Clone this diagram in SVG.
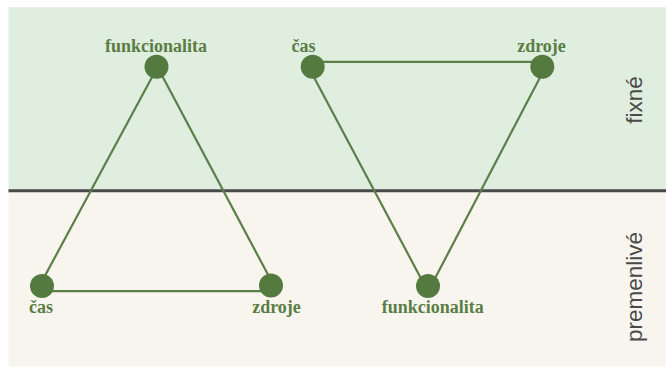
<svg xmlns="http://www.w3.org/2000/svg" width="666" height="369" viewBox="0 0 666 369">
<style>
.node{fill:#557a40;}
.edge{stroke:#5b7f49;stroke-width:2.2;fill:none;}
.lbl{font-family:"Liberation Serif","Times New Roman",serif;font-weight:bold;font-size:18px;fill:#5a7d45;text-anchor:middle;}
.side{font-family:"Liberation Sans",Arial,sans-serif;font-size:22.5px;fill:#4a4a4a;text-anchor:middle;}
</style>
<rect x="0" y="0" width="666" height="369" fill="#ffffff"/>
<g id="zone-fixne">
<rect x="8.5" y="7.3" width="657.5" height="183.4" fill="#dfeedf"/>
<text class="side" transform="translate(641.5,100) rotate(-90)">fixné</text>
</g>
<g id="zone-premenlive">
<rect x="8.5" y="190.7" width="657.5" height="176" fill="#f8f5ee"/>
<text class="side" transform="translate(641.5,287) rotate(-90)">premenlivé</text>
</g>
<line x1="8.5" y1="190.7" x2="666" y2="190.7" stroke="#4a4a4a" stroke-width="3"/>
<g id="connectors">
<line class="edge" x1="157.5" y1="67" x2="40" y2="285"/>
<line class="edge" x1="157.5" y1="67" x2="273.5" y2="285"/>
<line class="edge" x1="42" y1="291.2" x2="271" y2="291.2"/>
<line class="edge" x1="313" y1="61.8" x2="542" y2="61.8"/>
<line class="edge" x1="308.5" y1="67" x2="425" y2="286"/>
<line class="edge" x1="545.5" y1="67" x2="431" y2="286"/>
</g>
<g id="n-funkcionalita-top">
<circle class="node" cx="156.5" cy="66.7" r="12"/>
<text class="lbl" x="156" y="52">funkcionalita</text>
</g>
<g id="n-cas-top">
<circle class="node" cx="312.7" cy="66.7" r="12"/>
<text class="lbl" x="303.5" y="52">čas</text>
</g>
<g id="n-zdroje-top">
<circle class="node" cx="542.3" cy="66.7" r="12"/>
<text class="lbl" x="541.5" y="52">zdroje</text>
</g>
<g id="n-cas-bottom">
<circle class="node" cx="42" cy="286" r="12"/>
<text class="lbl" x="41" y="313">čas</text>
</g>
<g id="n-zdroje-bottom">
<circle class="node" cx="271" cy="285.5" r="12"/>
<text class="lbl" x="276.5" y="313">zdroje</text>
</g>
<g id="n-funkcionalita-bottom">
<circle class="node" cx="428" cy="286" r="12"/>
<text class="lbl" x="432.7" y="313">funkcionalita</text>
</g>
</svg>
